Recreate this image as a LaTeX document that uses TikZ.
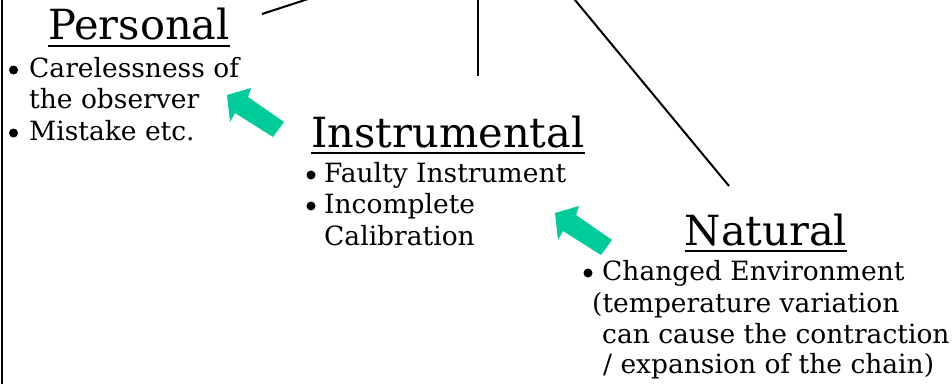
\documentclass[tikz,border=0pt]{standalone}
\usepackage{fontspec}
\setmainfont{DejaVu Serif}
\definecolor{arrowgreen}{RGB}{0,204,153}
\tikzset{
  head/.style={inner sep=0pt, anchor=base, font=\fontsize{41.5}{41.5}\selectfont},
  body/.style={inner sep=0pt, anchor=base west, font=\fontsize{26.5}{26.5}\selectfont},
  bul/.style={inner sep=0pt, circle, fill=black, minimum size=9pt},
  conn/.style={line width=2pt, black},
  uline/.style={line width=2pt, black},
  greenarrow/.pic={\fill[arrowgreen] (0,0) -- (24,-7) -- (21,2) -- (57,27) -- (46,42) -- (8,18) -- (3,27) -- cycle;}
}
\begin{document}
\begin{tikzpicture}[x=1pt,y=-1pt]
\useasboundingbox (0,0) rectangle (952,383);
\begin{scope}
\clip (0,0) rectangle (952,383);
\fill[white] (0,0) rectangle (952,383);
% left frame line
\coordinate (lt) at (1.5,-5);
\coordinate (lb) at (1.5,390);
\draw[conn] (lt) -- (lb);
% connectors from above
\coordinate (pEnd) at (262,14);
\coordinate (pTop) at (348,-14);
\coordinate (iEnd) at (478,76);
\coordinate (iTop) at (478,-5);
\coordinate (nEnd) at (729,186);
\coordinate (nTop) at (570,-6);
\draw[conn] (pEnd) -- (pTop);
\draw[conn] (iEnd) -- (iTop);
\draw[conn] (nEnd) -- (nTop);
\end{scope}
% headings
\node[head] (personal) at (139,39) {Personal};
\draw[uline] ([yshift=-7pt]personal.base west) -- ([yshift=-7pt]personal.base east);
\node[head] (instrumental) at (448,147) {Instrumental};
\draw[uline] ([yshift=-6pt]instrumental.base west) -- ([yshift=-6pt]instrumental.base east);
\node[head] (natural) at (766,245) {Natural};
\draw[uline] ([yshift=-6pt]natural.base west) -- ([yshift=-6pt]natural.base east);
% Personal bullets
\node[bul] (pb1) at (13.5,70) {};
\node[body] (p1) at (29,77) {Carelessness of};
\node[body] (p2) at (29,108) {the observer};
\node[bul] (pb2) at (13.5,133) {};
\node[body] (p3) at (29,140) {Mistake etc.};
% Instrumental bullets
\node[bul] (ib1) at (311,175) {};
\node[body] (i1) at (324,182) {Faulty Instrument};
\node[bul] (ib2) at (311,206) {};
\node[body] (i2) at (324,213) {Incomplete};
\node[body] (i3) at (324,245) {Calibration};
% Natural bullets
\node[bul] (nb1) at (588,273) {};
\node[body] (n1) at (602,280) {Changed Environment};
\node[body] (n2) at (592,312) {(temperature variation};
\node[body] (n3) at (602,343) {can cause the contraction};
\node[body] (n4) at (603,373) {/ expansion of the chain)};
% green arrows
\pic (arrowA) at (227,95) {greenarrow};
\pic (arrowB) at (555,213) {greenarrow};
\end{tikzpicture}
\end{document}
